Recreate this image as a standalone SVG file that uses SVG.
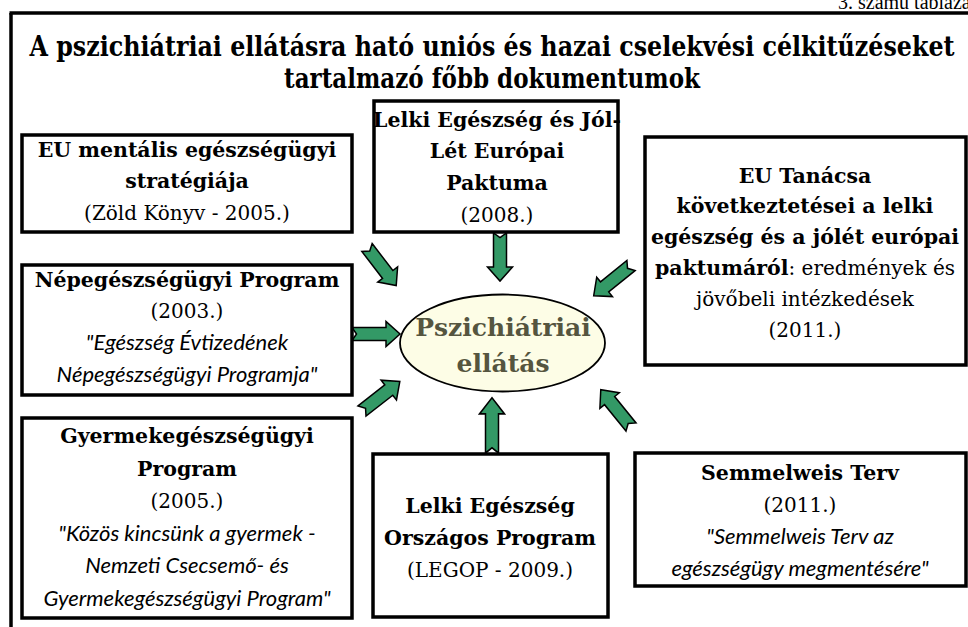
<svg xmlns="http://www.w3.org/2000/svg" xmlns:xlink="http://www.w3.org/1999/xlink" width="968" height="627" viewBox="0 0 968 627">
<style>
.box{fill:#fff;stroke:#000;stroke-width:3.5}
.frame{fill:none;stroke:#000;stroke-width:3.5}
.b{font-family:"DejaVu Serif",serif;font-weight:bold;font-size:20.5px;fill:#000;text-anchor:middle}
.r{font-family:"DejaVu Serif",serif;font-size:20px;fill:#000;text-anchor:middle}
.i{font-family:Lato,"Noto Sans",sans-serif;font-style:italic;font-size:22px;fill:#000;text-anchor:middle}
.t{font-family:"DejaVu Serif",serif;font-weight:bold;font-size:27px;fill:#000;text-anchor:middle}
.arr{fill:#339966;stroke:#000;stroke-width:1.5;stroke-linejoin:miter}
.el{fill:#fdfde6;stroke:#000;stroke-width:1.8}
.et{font-family:"DejaVu Serif",serif;font-weight:bold;font-size:25px;fill:#55553f;text-anchor:middle}
</style>
<defs>
<path id="arr" d="M0,-6.5 L34,-6.5 L34,-12.5 L48,0 L34,12.5 L34,6.5 L0,6.5 L4.5,0 Z"/>
</defs>
<text x="838" y="9" style="font-family:'Liberation Serif',serif;font-size:20px;fill:#000">3. számú táblázat</text>
<g id="frame">
<line class="frame" x1="9.5" y1="13" x2="968" y2="13"/>
<line class="frame" x1="11" y1="13" x2="11" y2="627"/>
</g>
<g id="title">
<text class="t" x="492" y="56" textLength="925" lengthAdjust="spacingAndGlyphs">A pszichiátriai ellátásra ható uniós és hazai cselekvési célkitűzéseket</text>
<text class="t" x="492" y="88" textLength="416" lengthAdjust="spacingAndGlyphs">tartalmazó főbb dokumentumok</text>
</g>
<g id="connectors">
<use xlink:href="#arr" class="arr" transform="translate(367,247.5) rotate(52.5)"/>
<use xlink:href="#arr" class="arr" transform="translate(500,233) rotate(90)"/>
<use xlink:href="#arr" class="arr" transform="translate(631,265.5) rotate(141)"/>
<use xlink:href="#arr" class="arr" transform="translate(352,334) rotate(0)"/>
<use xlink:href="#arr" class="arr" transform="translate(362,411) rotate(-38)"/>
<use xlink:href="#arr" class="arr" transform="translate(492,453) rotate(-90) scale(1.15,1)"/>
<use xlink:href="#arr" class="arr" transform="translate(631,427) rotate(-129)"/>
</g>
<g id="center">
<ellipse class="el" cx="502.5" cy="343" rx="102.5" ry="48.5"/>
<text class="et" x="503" y="336">Pszichiátriai</text>
<text class="et" x="503" y="372">ellátás</text>
</g>
<g id="n1">
<rect class="box" x="22" y="135" width="330" height="97"/>
<text class="b" x="187" y="157">EU mentális egészségügyi</text>
<text class="b" x="187" y="188">stratégiája</text>
<text class="r" x="187" y="220">(Zöld Könyv - 2005.)</text>
</g>
<g id="n2">
<rect class="box" x="374" y="101" width="244" height="131"/>
<text class="b" x="497" y="127">Lelki Egészség és Jól-</text>
<text class="b" x="497" y="158">Lét Európai</text>
<text class="b" x="497" y="190">Paktuma</text>
<text class="r" x="497" y="222">(2008.)</text>
</g>
<g id="n3">
<rect class="box" x="645" y="137" width="321" height="228"/>
<text class="b" x="805" y="183">EU Tanácsa</text>
<text class="b" x="805" y="213">következtetései a lelki</text>
<text class="b" x="805" y="244">egészség és a jólét európai</text>
<text class="r" x="805" y="275"><tspan style="font-weight:bold;font-size:20.5px">paktumáról</tspan>: eredmények és</text>
<text class="r" x="805" y="306">jövőbeli intézkedések</text>
<text class="r" x="805" y="337">(2011.)</text>
</g>
<g id="n4">
<rect class="box" x="22" y="265" width="330" height="130"/>
<text class="b" x="187" y="287">Népegészségügyi Program</text>
<text class="r" x="187" y="318">(2003.)</text>
<text class="i" x="187" y="350">"Egészség Évtizedének</text>
<text class="i" x="187" y="382">Népegészségügyi Programja"</text>
</g>
<g id="n5">
<rect class="box" x="22" y="418" width="330" height="200"/>
<text class="b" x="187" y="443">Gyermekegészségügyi</text>
<text class="b" x="187" y="476">Program</text>
<text class="r" x="187" y="508">(2005.)</text>
<text class="i" x="187" y="541">"Közös kincsünk a gyermek -</text>
<text class="i" x="187" y="573">Nemzeti Csecsemő- és</text>
<text class="i" x="187" y="606">Gyermekegészségügyi Program"</text>
</g>
<g id="n6">
<rect class="box" x="373" y="454" width="235" height="163"/>
<text class="b" x="490" y="513">Lelki Egészség</text>
<text class="b" x="490" y="545">Országos Program</text>
<text class="r" x="490" y="577">(LEGOP - 2009.)</text>
</g>
<g id="n7">
<rect class="box" x="635" y="453" width="331" height="133"/>
<text class="b" x="800" y="480">Semmelweis Terv</text>
<text class="r" x="800" y="512">(2011.)</text>
<text class="i" x="800" y="544">"Semmelweis Terv az</text>
<text class="i" x="800" y="576">egészségügy megmentésére"</text>
</g>
</svg>
